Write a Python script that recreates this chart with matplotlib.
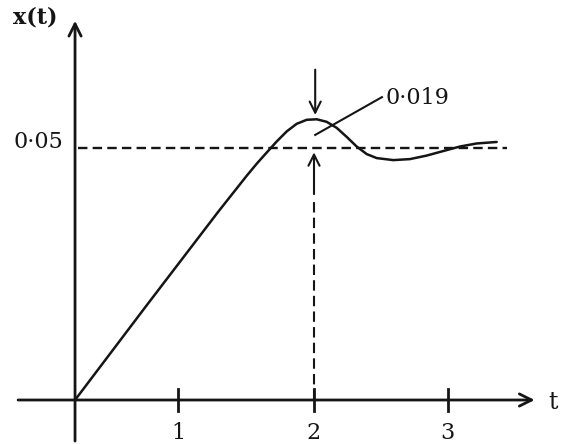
import numpy as np
import matplotlib.pyplot as plt

# response x(t) (t in drawing units, 2 = peak time)
t_pts = [0.0, 0.6, 1.2, 1.437, 1.521, 1.604, 1.688, 1.772, 1.855, 1.939,
         2.023, 2.106, 2.190, 2.274, 2.357, 2.441, 2.525, 2.664, 2.803, 2.943,
         3.082, 3.222, 3.361, 3.529]
x_pts = [0.0, 0.0188, 0.0374, 0.0445, 0.0469, 0.0491, 0.0513, 0.0533, 0.0548, 0.0556,
         0.0557, 0.0552, 0.0540, 0.0522, 0.0503, 0.0488, 0.0480, 0.0476, 0.0478, 0.0485,
         0.0494, 0.0503, 0.0509, 0.0512]

tick_pos = [0.862, 2.0, 3.12]
tick_labels = ['1', '2', '3']
final_value = 0.05
final_label = '0·05'
peak_t = 2.0
overshoot_label = '0·019'

ink = '#151515'
font = 'DejaVu Serif'

fig = plt.figure(figsize=(5.63, 4.44), dpi=100)
ax = fig.add_axes([0, 0, 1, 1])
ax.set_xlim(-0.628, 4.084)
ax.set_ylim(-0.00873, 0.07937)
ax.axis('off')

# axes with arrow heads
arr = dict(arrowstyle='->', lw=2.0, color=ink, mutation_scale=22)
ax.annotate('', xy=(3.87, 0), xytext=(-0.5, 0), arrowprops=arr)
ax.annotate('', xy=(0, 0.0758), xytext=(0, -0.0087), arrowprops=arr)

# ticks on t axis
for p, lab in zip(tick_pos, tick_labels):
    ax.plot([p, p], [-0.0022, 0.0022], color=ink, lw=2.0)
    ax.text(p, -0.0066, lab, ha='center', va='center', fontsize=16,
            family=font, color=ink)

# final value line
ax.plot([0.025, 3.615], [final_value, final_value], color=ink, lw=1.7,
        linestyle=(0, (4, 2.2)))
ax.text(-0.095, final_value + 0.0011, final_label, ha='right', va='center',
        fontsize=16, family=font, color=ink)

# response curve
ax.plot(t_pts, x_pts, color=ink, lw=1.8, solid_capstyle='round',
        solid_joinstyle='round')

# vertical dashed line at peak time with arrow up to final value
ax.plot([peak_t, peak_t], [0, 0.0403], color=ink, lw=1.5,
        linestyle=(0, (5, 2.5)))
arr2 = dict(arrowstyle='->', lw=1.5, color=ink, mutation_scale=20)
ax.annotate('', xy=(peak_t, final_value - 0.0003), xytext=(peak_t, 0.0403),
            arrowprops=arr2)
# arrow down to peak
ax.annotate('', xy=(peak_t + 0.01, 0.0560), xytext=(peak_t + 0.01, 0.0661),
            arrowprops=arr2)

# overshoot leader line and label
ax.plot([peak_t + 0.01, 2.569], [0.0526, 0.0601], color=ink, lw=1.5)
ax.text(2.60, 0.0600, overshoot_label, ha='left', va='center', fontsize=16,
        family=font, color=ink)

# axis labels
ax.text(-0.335, 0.0758, 'x(t)', ha='center', va='center', fontsize=16,
        family=font, fontweight='bold', color=ink)
ax.text(4.0, -0.0004, 't', ha='center', va='center', fontsize=17,
        family=font, color=ink)

fig.savefig('out.png', dpi=100)
